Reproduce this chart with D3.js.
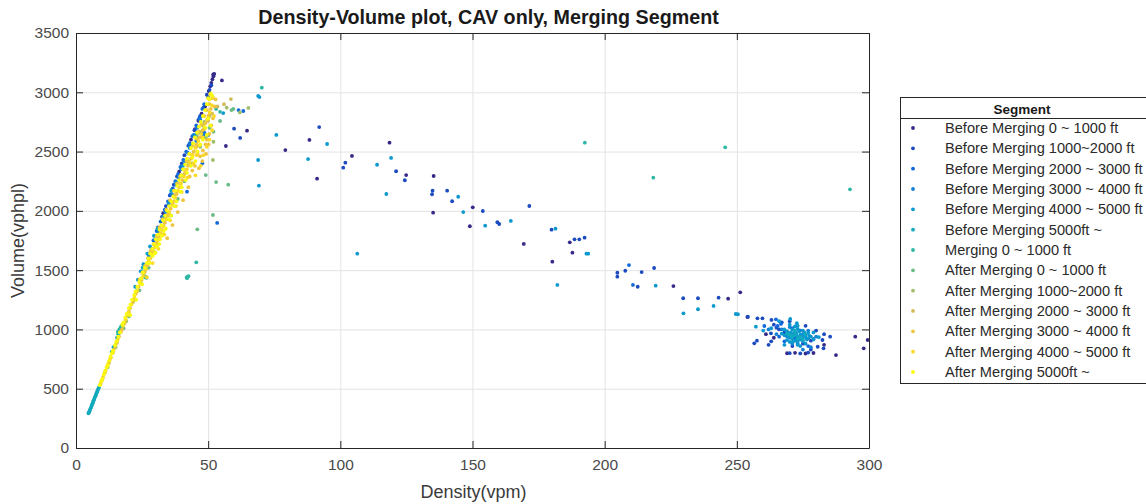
<!DOCTYPE html>
<html>
<head>
<meta charset="utf-8">
<script src="https://cdn.jsdelivr.net/npm/d3@7"></script>
<style>
  html, body { margin: 0; padding: 0; background: #fff; }
  svg { display: block; font-family: "Liberation Sans", Arial, sans-serif; }
</style>
</head>
<body>
<svg id="chart" width="1146" height="504"></svg>
<script>
// ---- data: [density (vpm), volume (vphpl)] per segment ----
const segmentNames = [
  "Before Merging 0 ~ 1000 ft",
  "Before Merging 1000~2000 ft",
  "Before Merging 2000 ~ 3000 ft",
  "Before Merging 3000 ~ 4000 ft",
  "Before Merging 4000 ~ 5000 ft",
  "Before Merging 5000ft ~",
  "Merging 0 ~ 1000 ft",
  "After Merging 0 ~ 1000 ft",
  "After Merging 1000~2000 ft",
  "After Merging 2000 ~ 3000 ft",
  "After Merging 3000 ~ 4000 ft",
  "After Merging 4000 ~ 5000 ft",
  "After Merging 5000ft ~"
];

const before0to1000 = [
  [50.2,3010],[50.8,3050],[51.2,3080],[51.6,3110],[52.0,3135],[52.3,3155],[51.9,3150],[48.8,2880],
  [47.5,2820],[46.3,2760],[45,2690],[43.5,2600],[39,2330],[36.4,2180],[33,1980],
  [55.2,3100],[56.7,2547],[64.7,2676],[79.2,2513],[88.3,2598],[91.2,2271],[104.4,2463],[118.6,2575],
  [124.9,2302],[135.3,2294],[135.1,1985],[150.1,2030],[149.0,1870],[169.4,1721],[180.2,1571],
  [186.8,1735],[187.8,1647],[226,1366],[246.7,1259],[251.3,1313],[254,1105],[287.5,784],[294.8,939],
  [298,841],[299.5,911],[269,799],[272,803],[276,797],[279,801],[264,930],[283,870],[261,960]
];
const before1000to2000 = [
  [49.5,2980],[50.5,3020],[51.2,3060],[50,2960],[48.2,2870],[47,2800],[46.4,2770],[44.8,2680],
  [42.5,2550],[41,2470],[40,2400],[38.2,2290],[37,2220],[35.5,2130],[34,2040],[32.5,1950],[31,1860],
  [59.8,2693],[62.1,2615],[92,2707],[101.9,2406],[101.1,2364],[121.1,2334],[124.4,2258],[134.9,2170],
  [134.7,2140],[140.4,2170],[142.3,2081],[153.9,1999],[159.4,1904],[160.1,1889],[171.5,2041],
  [179.9,1841],[188.6,1760],[190.4,1760],[192.4,1774],[204.8,1478],[204.8,1445],[207.8,1495],
  [212.5,1360],[214,1484],[218.7,1518],[229.7,1263],[235.3,1263],[243.1,1268],[254.2,1107],
  [257.8,1094],[259.7,1094],[263.1,1080],[256.6,883],[257.6,905],[262.9,967],[282.4,911],[285.3,939],
  [280.6,854],[282.8,841],[270,800],[274,798],[277,805],[266,1000],[268,975],[264,1040],[275,880],
  [278,905],[271,860],[265,1015],[267,1060],[263,900],[262,870],[270,1070],[276,1030],[280,990],
  [283,960],[278,830]
];
const before2000to3000 = [
  [48.5,2900],[47.8,2860],[46.8,2790],[45.5,2720],[44,2630],[43,2570],[41.7,2500],[40.6,2430],
  [39.5,2370],[38.6,2310],[37.6,2250],[36.6,2190],[35.8,2140],[34.8,2080],[33.6,2010],[32,1910],
  [30.5,1830],[29.3,1750],[47.8,2401],[42,2162],[53.4,1898],[48.5,2660],[50,2640],[63.3,2842],
  [61.5,2850],[209.2,1543],[210.7,1375],[264.8,1085],[260.4,1029],[265.4,1029],[266.7,1046],
  [266,939],[270,960],[272,930],[274,990],[268,900],[276,950],[279,920],[271,1010],[273,880],[277,860]
];
const before3000to4000 = [
  [47,2770],[45.8,2700],[44.5,2640],[43.2,2560],[42.2,2490],[41,2420],[39.8,2350],[38.8,2280],
  [37.8,2220],[36.3,2140],[35,2060],[33.8,1990],[32.6,1920],[31.2,1830],[30,1760],[28.6,1680],
  [27.5,1620],[47.2,2660],[45.5,2590],[48.3,2640],
  [267,1000],[270,1020],[272,975],[275,960],[269,940],[273,910],[277,990],[280,940],[265,960],
  [271,880],[275,830],[278,850],[262,1000]
];
const before4000to5000 = [
  [28,1700],[29.5,1790],[27,1640],[25.5,1550],[24.5,1490],[23.4,1420],[22.4,1360],[33,1950],
  [35.2,2070],[38,2240],[40.5,2380],[43,2530],[45.2,2640],
  [68.9,2969],[69.4,2960],[55.7,2825],[75.8,2640],[68.9,2429],[69.2,2212],[87.8,2437],[95,2564],
  [106.4,1639],[113.9,2389],[119.2,2446],[117.4,2142],[144.6,2119],[146.5,1990],[154.8,1875],
  [164.5,1915],[181.4,1850],[182.1,1375],[193.1,1639],[193.8,1639],[219.3,1369],[229.8,1136],
  [235.3,1170],[241.2,1198],[249.6,1130],[250.4,1128],
  [270.2,1088],[257.2,1023],[272.7,1052],[268,1000],[269,985],[270,970],[271,960],[272,950],
  [273,940],[274,955],[275,945],[276,935],[270,930],[271,920],[272,905],[273,895],[274,915],
  [275,900],[277,925],[278,940],[279,915],[268,950],[267,965],[269,910],[271,890],[273,870],
  [276,880],[270,1040],[273,1005],[275,990],[277,970],[266,1070],[272,1025],[279,975],[281,935],
  [268,870],[274,860],[263,1010],[260,990],[269.5,945],[270.5,975],[271.5,905],[272.5,965],
  [273.5,985],[274.5,925],[275.5,975],[276.5,915],[277.5,945],[271,1000],[273,1030],[270,895]
];
const before5000plus = [
  [4.7,293],[4.9,300],[5.1,310],[5.3,322],[5.5,333],[5.7,343],[5.9,355],[6.1,366],[6.3,378],
  [6.5,390],[6.7,402],[6.9,413],[7.1,425],[7.3,436],[7.5,448],[7.7,458],[7.9,470],[8.1,481],
  [8.3,492],[8.5,502],[8.7,512],
  [16.5,995],[16.8,1010],[16,960],[15.5,930],[17.2,1030],[13.5,810],[14.2,850],
  [25.2,1520],[30.8,1850],[36,2170],
  [271,940],[272,960],[274,935],[270,955],[273,925],[275,915],[269,965],[276,960],[272,990]
];
const merging0to1000 = [
  [26.1,1440],[26.4,1445],[26.7,1435],[41.9,1440],[42.3,1445],[42.6,1450],[42,1432],[45.5,1566],
  [15.8,980],[16.4,1000],[17,1020],[53,2860],[54.5,2835],
  [70.3,3039],[192.5,2575],[218.4,2280],[245.6,2536],[292.8,2182]
];
const after0to1000 = [
  [59.5,2859],[58.8,2850],[54.5,2758],[53,2243],[57.6,2221],[51.8,1965],[45.9,1844],[49.1,2302],
  [52,2668],[50.5,2700],[49,2620],[47,2540],[44,2400],[41,2250],[38.5,2100],[36,1960],[33,1800],
  [30,1650],[27.5,1520],[24,1330],[20,1110],[18,1010],[46,2620],[48,2720]
];
const after1000to2000 = [
  [65.2,2868],[62,2830],[57,2870],[51.8,2429],[52,2583],[50.5,2800],[48.5,2750],[46,2650],
  [44.5,2500],[42.5,2420],[40,2300],[37,2130],[34,1950],[31,1780],[28.5,1640],[25.5,1470],
  [22,1250],[19,1070],[15,850],[12,680]
];
const after2000to3000 = [
  [58.6,2943],[56,2900],[53.5,2880],[51.5,2820],[50,2760],[48.5,2690],[47,2620],[45.5,2540],
  [44,2470],[42.5,2390],[41,2310],[39.5,2230],[38,2150],[36.5,2060],[35,1980],[33.5,1900],
  [32,1810],[30.5,1730],[29,1650],[27.5,1570],[26,1490],[24.5,1400],[23,1320],[21.5,1230],
  [20,1150],[18.5,1060],[17,980],[15.5,890],[14,810],[12.5,720],[11,640],[9.5,560]
];
const after3000to4000 = [
  [9.3,540],[10.2,595],[11.2,655],[12.2,710],[13.2,765],[14.3,830],[15.2,880],[16.3,940],
  [17.4,1000],[18.3,1050],[19.5,1120],[20.5,1180],[21.6,1240],[22.6,1300],[23.7,1360],[24.8,1420],
  [25.9,1480],[27,1540],[28.1,1600],[29.2,1660],[30.3,1720],[31.4,1780],[32.5,1840],[33.6,1900],
  [34.7,1960],[35.8,2020],[36.9,2080],[38,2140],[39.1,2200],[40.2,2260],[41.3,2320],[42.4,2380],
  [43.5,2440],[44.6,2500],[45.7,2560],[46.8,2620],[47.9,2680],[49,2740],[50.1,2800],[51,2860],
  [50.5,2900],[49.5,2850],[48.5,2800],[47.5,2730],[46.5,2670],[45.5,2610],[44.2,2550],[43,2480],
  [41.8,2420],[40.6,2350],[39.4,2290],[38.2,2230],[37,2170],[35.6,2090],[34.2,2010],[32.8,1930],
  [31.6,1860],[30.5,1790],[29.3,1720],[28.2,1660],[27.2,1600],[26.2,1540],[25.1,1480],[24,1420],
  [49,2560],[48,2510],[47,2460],[45,2380],[43,2290],[51.5,2950],[50.5,2650],[49.5,2600],[46,2480],
  [44,2340],[51.8,2780],[52.4,2880],[51.2,2720],[50.2,2560],[49.2,2480],[47.8,2420],[52.8,2940],
  [46.5,2360],[42.5,2200],[40.5,2090],[38.5,1990],[36.5,1880],[34.5,1770]
];
const after4000to5000 = [
  [9.8,570],[10.8,630],[11.8,690],[12.8,745],[13.8,800],[14.8,860],[15.8,915],[16.8,975],
  [17.8,1030],[18.8,1085],[19.9,1145],[21,1210],[22.1,1270],[23.2,1330],[24.3,1390],[25.4,1450],
  [26.5,1510],[27.6,1570],[28.7,1630],[29.8,1690],[30.9,1750],[32,1810],[33.1,1870],[34.2,1930],
  [35.3,1990],[36.4,2050],[37.5,2110],[38.6,2170],[39.7,2230],[40.8,2290],[41.9,2350],[43,2410],
  [44.1,2470],[45.2,2530],[46.3,2590],[47.4,2650],[48.5,2710],[49.6,2770],[50.6,2830],[51.4,2890],
  [51.8,2960],[50.8,2980],[48,2620],[46.8,2550],[45.6,2470],[44.4,2400],[42.2,2280],[40,2160],
  [37.8,2040],[35.6,1920],[33.4,1800],[31.2,1680],[29,1560],[26.8,1440],[51.5,2680],[50.5,2600],
  [49.5,2540],[48.2,2470],[52.2,2800],[47.2,2380],[45.2,2300]
];
const after5000plus = [
  [9,530],[9.5,560],[10,585],[10.5,620],[11,650],[11.6,680],[12,700],[12.5,735],[13,770],
  [13.6,800],[14,820],[14.8,870],[15.3,900],[16,940],[16.6,975],[17.5,1040],[18,1060],[18.6,1100],
  [19.2,1130],[20,1180],[20.6,1210],[21.2,1250],[22,1290],[22.5,1320],[23.2,1360],[24,1400],
  [24.6,1430],[25.3,1480],[26,1520],[26.8,1560],[27.5,1600],[28,1640],[28.8,1680],[29.5,1720],
  [30.2,1760],[31,1800],[31.6,1840],[32.3,1880],[33,1920],[33.7,1960],[34.5,2000],[35.2,2040],
  [36,2080],[36.8,2120],[37.5,2170],[38.3,2210],[39,2260],[39.8,2300],[40.5,2350],[41.3,2390],
  [42,2440],[42.8,2480],[43.5,2530],[44.3,2570],[45,2620],[45.8,2660],[46.5,2710],[47.2,2750],
  [48,2800],[48.8,2850],[49.5,2900],[50,2950],[51,2990],[51.5,2970],[50.5,2940],
  [27.8,1560],[29,1620],[30,1650],[31.5,1720],[44,2450],[46,2500],[48,2600],[47,2560],[49,2700],
  [50,2780],[34,1850],[36,1960],[38,2080],[40,2200],[42,2320],[20.5,1120],[22.8,1250],[25,1380],
  [29.8,1640],[32.5,1790],[35,1930],[37.2,2040],[39.5,2160],[41.5,2260],[43.5,2380],
  [30.6,1700],[31.8,1760],[33.2,1830],[45.2,2420],[49.5,2640],[50.8,2720]
];

const segments = [
  before0to1000, before1000to2000, before2000to3000, before3000to4000, before4000to5000,
  before5000plus, merging0to1000, after0to1000, after1000to2000, after2000to3000,
  after3000to4000, after4000to5000, after5000plus
];

const xTicks = [0, 50, 100, 150, 200, 250, 300];
const yTicks = [0, 500, 1000, 1500, 2000, 2500, 3000, 3500];

// ---- layout ----
const plot = { left: 76, right: 869, top: 33, bottom: 448 };
const svg = d3.select("#chart");

// parula-like colour ramp, one colour per segment
const parulaStops = ["#352A87", "#0F5CDD", "#1481D6", "#06A4CA", "#2EB7A4",
                     "#87BF77", "#D1BB59", "#FEC832", "#F9FB0E"];
const ramp = d3.scaleLinear()
  .domain(parulaStops.map((_, i) => i / (parulaStops.length - 1)))
  .range(parulaStops)
  .interpolate(d3.interpolateRgb);
const color = i => ramp(i / (segments.length - 1));

const x = d3.scaleLinear().domain([0, 300]).range([plot.left, plot.right]);
const y = d3.scaleLinear().domain([0, 3500]).range([plot.bottom, plot.top]);

const axisColor = "#262626";
const tickLen = 7;
const fmt = d3.format("d");

// grid
svg.append("g")
  .attr("transform", `translate(0,${plot.bottom})`)
  .call(d3.axisBottom(x).tickValues(xTicks).tickSize(-(plot.bottom - plot.top)).tickFormat(""))
  .call(g => g.select(".domain").remove())
  .call(g => g.selectAll("line").attr("stroke", "#e3e3e3"));
svg.append("g")
  .attr("transform", `translate(${plot.left},0)`)
  .call(d3.axisLeft(y).tickValues(yTicks).tickSize(-(plot.right - plot.left)).tickFormat(""))
  .call(g => g.select(".domain").remove())
  .call(g => g.selectAll("line").attr("stroke", "#e3e3e3"));

// points
const layer = svg.append("g");
segments.forEach((pts, i) => {
  layer.append("g")
    .selectAll("circle")
    .data(pts)
    .join("circle")
    .attr("cx", d => x(d[0]))
    .attr("cy", d => y(d[1]))
    .attr("r", 1.9)
    .attr("fill", color(i));
});

// axes (box with inward ticks)
function styleAxis(g) {
  g.select(".domain").attr("stroke", axisColor);
  g.selectAll(".tick line").attr("stroke", axisColor);
  g.selectAll(".tick text")
    .attr("fill", "#4a4a4a")
    .style("font-size", "15.5px")
    .style("font-family", "'Liberation Sans', Arial, sans-serif");
}
svg.append("g")
  .attr("transform", `translate(0,${plot.bottom})`)
  .call(d3.axisBottom(x).tickValues(xTicks).tickFormat(fmt)
    .tickSizeInner(-tickLen).tickSizeOuter(0).tickPadding(11))
  .call(styleAxis);
svg.append("g")
  .attr("transform", `translate(${plot.left},0)`)
  .call(d3.axisLeft(y).tickValues(yTicks).tickFormat(fmt)
    .tickSizeInner(-tickLen).tickSizeOuter(0).tickPadding(7))
  .call(styleAxis);
svg.append("g")
  .attr("transform", `translate(0,${plot.top})`)
  .call(d3.axisTop(x).tickValues(xTicks).tickSizeInner(-tickLen).tickSizeOuter(0).tickFormat(""))
  .call(styleAxis);
svg.append("g")
  .attr("transform", `translate(${plot.right},0)`)
  .call(d3.axisRight(y).tickValues(yTicks).tickSizeInner(-tickLen).tickSizeOuter(0).tickFormat(""))
  .call(styleAxis);

// titles
svg.append("text")
  .attr("x", (plot.left + plot.right) / 2 + 16).attr("y", 24)
  .attr("text-anchor", "middle")
  .style("font-size", "19.7px").style("font-weight", "bold").attr("fill", "#1a1a1a")
  .text("Density-Volume plot, CAV only, Merging Segment");
svg.append("text")
  .attr("x", (plot.left + plot.right) / 2 + 1).attr("y", 498)
  .attr("text-anchor", "middle")
  .style("font-size", "18px").attr("fill", "#3a3a3a")
  .text("Density(vpm)");
svg.append("text")
  .attr("transform", `translate(24,${(plot.top + plot.bottom) / 2}) rotate(-90)`)
  .attr("text-anchor", "middle")
  .style("font-size", "18px").attr("fill", "#3a3a3a")
  .text("Volume(vphpl)");

// legend
const lg = { x: 900, y: 97, w: 246, h: 286, rowTop: 128, rowStep: 20.33 };
const legend = svg.append("g");
legend.append("rect")
  .attr("x", lg.x + 0.5).attr("y", lg.y + 0.5)
  .attr("width", lg.w).attr("height", lg.h)
  .attr("fill", "#fff").attr("stroke", axisColor);
legend.append("line")
  .attr("x1", lg.x).attr("x2", lg.x + lg.w)
  .attr("y1", 118.5).attr("y2", 118.5)
  .attr("stroke", axisColor);
legend.append("text")
  .attr("x", 1022).attr("y", 114)
  .attr("text-anchor", "middle")
  .style("font-size", "13.5px").style("font-weight", "bold").attr("fill", "#1a1a1a")
  .text("Segment");
const rows = legend.selectAll("g.row")
  .data(segmentNames)
  .join("g")
  .attr("class", "row")
  .attr("transform", (d, i) => `translate(0,${lg.rowTop + i * lg.rowStep})`);
rows.append("circle")
  .attr("cx", 913).attr("cy", 0).attr("r", 1.9)
  .attr("fill", (d, i) => color(i));
rows.append("text")
  .attr("x", 945).attr("y", 5)
  .style("font-size", "14.6px").attr("fill", "#2a2a2a")
  .text(d => d);
</script>
</body>
</html>
